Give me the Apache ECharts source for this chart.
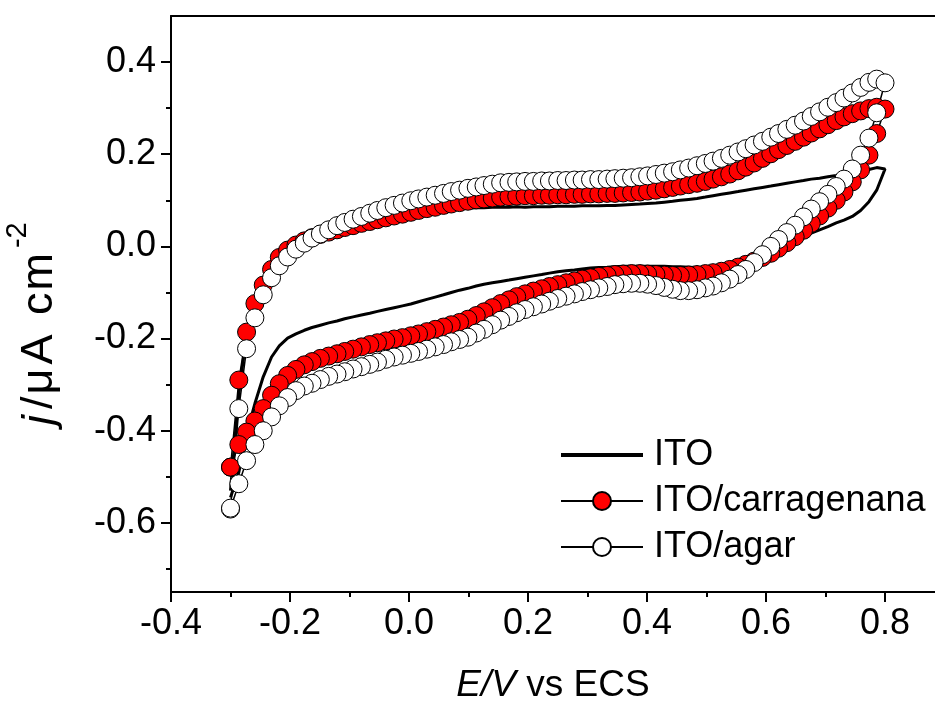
<!DOCTYPE html>
<html><head><meta charset="utf-8">
<script src="https://cdn.jsdelivr.net/npm/echarts@6/dist/echarts.min.js"></script>
<style>html,body{margin:0;padding:0;background:#fff}#c{width:935px;height:702px}</style>
</head><body><div id="c"></div>
<script>
// Potential (V vs ECS), forward (anodic) and reverse (cathodic) scans
const potentialForward = [
 -0.3, -0.286, -0.273, -0.259, -0.245, -0.231, -0.218, -0.204, -0.19, -0.176,
 -0.163, -0.149, -0.135, -0.121, -0.108, -0.094, -0.08, -0.066, -0.053, -0.039,
 -0.025, -0.011, 0.003, 0.016, 0.03, 0.044, 0.058, 0.071, 0.085, 0.099,
 0.113, 0.126, 0.14, 0.154, 0.168, 0.181, 0.195, 0.209, 0.223, 0.236,
 0.25, 0.264, 0.278, 0.291, 0.305, 0.319, 0.333, 0.346, 0.36, 0.374,
 0.388, 0.401, 0.415, 0.429, 0.443, 0.456, 0.47, 0.484, 0.498, 0.511,
 0.525, 0.539, 0.553, 0.566, 0.58, 0.594, 0.608, 0.621, 0.635, 0.649,
 0.663, 0.676, 0.69, 0.704, 0.718, 0.731, 0.745, 0.759, 0.773, 0.786,
 0.8];
const potentialReverse = [
 0.786, 0.773, 0.759, 0.745, 0.731, 0.718, 0.704, 0.69, 0.676, 0.663,
 0.649, 0.635, 0.621, 0.608, 0.594, 0.58, 0.566, 0.553, 0.539, 0.525,
 0.511, 0.498, 0.484, 0.47, 0.456, 0.443, 0.429, 0.415, 0.401, 0.388,
 0.374, 0.36, 0.346, 0.333, 0.319, 0.305, 0.291, 0.278, 0.264, 0.25,
 0.236, 0.223, 0.209, 0.195, 0.181, 0.168, 0.154, 0.14, 0.126, 0.113,
 0.099, 0.085, 0.071, 0.058, 0.044, 0.03, 0.016, 0.003, -0.011, -0.025,
 -0.039, -0.053, -0.066, -0.08, -0.094, -0.108, -0.121, -0.135, -0.149, -0.163,
 -0.176, -0.19, -0.204, -0.218, -0.231, -0.245, -0.259, -0.273, -0.286, -0.3];

// ITO (current density, µA cm-2)
const itoForward = [
 -0.530, -0.320, -0.190, -0.115, -0.070, -0.040, -0.018, -0.002, 0.010, 0.020,
 0.028, 0.035, 0.041, 0.046, 0.051, 0.055, 0.059, 0.062, 0.065, 0.068,
 0.071, 0.073, 0.075, 0.077, 0.078, 0.080, 0.081, 0.082, 0.082, 0.083,
 0.084, 0.084, 0.085, 0.085, 0.085, 0.086, 0.085, 0.086, 0.086, 0.086,
 0.087, 0.087, 0.087, 0.088, 0.088, 0.088, 0.089, 0.089, 0.090, 0.091,
 0.092, 0.093, 0.094, 0.096, 0.098, 0.100, 0.102, 0.104, 0.107, 0.110,
 0.113, 0.116, 0.119, 0.122, 0.125, 0.128, 0.131, 0.134, 0.137, 0.140,
 0.143, 0.146, 0.148, 0.151, 0.154, 0.157, 0.160, 0.163, 0.167, 0.171,
 0.168];
const itoReverse = [
 0.122, 0.097, 0.078, 0.065, 0.057, 0.051, 0.043, 0.036, 0.029, 0.022,
 0.015, 0.006, -0.006, -0.018, -0.029, -0.038, -0.044, -0.047, -0.049, -0.049,
 -0.048, -0.047, -0.046, -0.045, -0.044, -0.044, -0.043, -0.043, -0.043, -0.043,
 -0.043, -0.043, -0.044, -0.045, -0.046, -0.047, -0.049, -0.051, -0.053, -0.055,
 -0.058, -0.061, -0.064, -0.067, -0.070, -0.073, -0.076, -0.079, -0.082, -0.086,
 -0.091, -0.095, -0.100, -0.105, -0.110, -0.115, -0.120, -0.125, -0.129, -0.133,
 -0.137, -0.141, -0.145, -0.149, -0.153, -0.157, -0.162, -0.166, -0.171, -0.176,
 -0.182, -0.190, -0.199, -0.216, -0.240, -0.283, -0.341, -0.407, -0.490, -0.545];

// ITO/carragenana
const carrForward = [
 -0.479, -0.290, -0.186, -0.124, -0.084, -0.050, -0.024, -0.008, 0.003, 0.012,
 0.019, 0.026, 0.031, 0.036, 0.041, 0.045, 0.050, 0.054, 0.058, 0.062,
 0.066, 0.070, 0.074, 0.078, 0.082, 0.085, 0.089, 0.092, 0.095, 0.098,
 0.101, 0.103, 0.105, 0.107, 0.108, 0.109, 0.110, 0.110, 0.111, 0.111,
 0.112, 0.112, 0.113, 0.113, 0.114, 0.114, 0.115, 0.115, 0.116, 0.117,
 0.118, 0.120, 0.122, 0.125, 0.128, 0.131, 0.134, 0.137, 0.141, 0.146,
 0.151, 0.157, 0.164, 0.172, 0.181, 0.191, 0.201, 0.210, 0.219, 0.228,
 0.237, 0.246, 0.255, 0.264, 0.273, 0.281, 0.288, 0.294, 0.299, 0.302,
 0.298];
const carrReverse = [
 0.245, 0.198, 0.166, 0.140, 0.118, 0.100, 0.083, 0.066, 0.050, 0.035,
 0.021, 0.008, -0.004, -0.015, -0.024, -0.032, -0.039, -0.045, -0.050, -0.054,
 -0.057, -0.059, -0.061, -0.062, -0.063, -0.063, -0.062, -0.061, -0.060, -0.059,
 -0.059, -0.060, -0.061, -0.063, -0.065, -0.068, -0.071, -0.075, -0.079, -0.083,
 -0.087, -0.092, -0.097, -0.103, -0.109, -0.116, -0.124, -0.133, -0.142, -0.150,
 -0.158, -0.165, -0.170, -0.175, -0.180, -0.185, -0.190, -0.194, -0.198, -0.201,
 -0.205, -0.209, -0.213, -0.218, -0.223, -0.228, -0.233, -0.238, -0.243, -0.250,
 -0.257, -0.267, -0.280, -0.298, -0.323, -0.352, -0.379, -0.403, -0.430, -0.479];

// ITO/agar
const agarForward = [
 -0.570, -0.352, -0.222, -0.155, -0.105, -0.068, -0.042, -0.023, -0.006, 0.007,
 0.018, 0.027, 0.036, 0.045, 0.052, 0.059, 0.065, 0.072, 0.078, 0.084,
 0.089, 0.094, 0.099, 0.103, 0.107, 0.111, 0.115, 0.119, 0.122, 0.126,
 0.129, 0.132, 0.135, 0.138, 0.139, 0.140, 0.141, 0.141, 0.142, 0.142,
 0.143, 0.143, 0.144, 0.144, 0.145, 0.145, 0.146, 0.147, 0.148, 0.149,
 0.151, 0.153, 0.156, 0.159, 0.162, 0.166, 0.170, 0.175, 0.180, 0.185,
 0.191, 0.198, 0.205, 0.212, 0.220, 0.228, 0.237, 0.245, 0.254, 0.263,
 0.272, 0.282, 0.292, 0.302, 0.312, 0.322, 0.333, 0.345, 0.356, 0.363,
 0.355];
const agarReverse = [
 0.290, 0.235, 0.198, 0.168, 0.146, 0.130, 0.113, 0.097, 0.081, 0.064,
 0.046, 0.030, 0.015, 0.000, -0.018, -0.035, -0.050, -0.061, -0.071, -0.079,
 -0.086, -0.090, -0.094, -0.096, -0.096, -0.093, -0.089, -0.085, -0.082, -0.080,
 -0.080, -0.081, -0.083, -0.087, -0.090, -0.094, -0.098, -0.103, -0.108, -0.113,
 -0.119, -0.125, -0.131, -0.137, -0.144, -0.152, -0.160, -0.170, -0.180, -0.188,
 -0.197, -0.202, -0.207, -0.213, -0.218, -0.223, -0.228, -0.232, -0.236, -0.240,
 -0.245, -0.251, -0.256, -0.261, -0.266, -0.272, -0.277, -0.282, -0.289, -0.297,
 -0.303, -0.313, -0.328, -0.346, -0.370, -0.400, -0.430, -0.465, -0.515, -0.568];

const seriesNames = ['ITO', 'ITO/carragenana', 'ITO/agar'];
const xTicks = [-0.4, -0.2, 0, 0.2, 0.4, 0.6, 0.8];
const xMinorTicks = [-0.3, -0.1, 0.1, 0.3, 0.5, 0.7];
const yTicks = [-0.6, -0.4, -0.2, 0, 0.2, 0.4];
const yMinorTicks = [-0.7, -0.5, -0.3, -0.1, 0.1, 0.3];

const FONT = '"Liberation Sans", Arial, Helvetica, sans-serif';
const X_MIN = -0.4, X_MAX = 0.884, Y_MIN = -0.75, Y_MAX = 0.5;

function pairs(fwd, rev) {
  return potentialForward.map((x, i) => [x, fwd[i]])
    .concat(potentialReverse.map((x, i) => [x, rev[i]]));
}

const chart = echarts.init(document.getElementById('c'), null, {renderer: 'canvas'});

const axisLineStyle = {color: '#000', width: 2};
function majorAxis(pos, ticks, min, max) {
  return {
    type: 'value', position: pos, min: min, max: max,
    axisLine: {show: true, onZero: false, lineStyle: axisLineStyle},
    axisTick: {show: true, inside: false, length: 10, lineStyle: axisLineStyle, customValues: ticks},
    axisLabel: {show: true, customValues: ticks, formatter: v => v.toFixed(1),
      fontSize: 36, color: '#000', fontFamily: FONT, margin: pos === 'left' ? 15 : 14},
    splitLine: {show: false}
  };
}
function minorAxis(pos, ticks, min, max) {
  return {
    type: 'value', position: pos, min: min, max: max,
    axisLine: {show: false, onZero: false},
    axisTick: {show: true, inside: false, length: 5, lineStyle: axisLineStyle, customValues: ticks},
    axisLabel: {show: false},
    splitLine: {show: false}
  };
}

// y-axis title: measured so the superscript follows the main text
const Y_FS = 45, SUP_FS = 29;
const mctx = document.createElement('canvas').getContext('2d');
function tw(str, size, style) {
  mctx.font = (style || 'normal') + ' ' + size + 'px ' + FONT;
  return mctx.measureText(str).width;
}
const yTitleTokens = [
  ['j', 'i', 0, 4], ['/', 'n', 2, 2], ['\u03bc', 'n', 0, 4], ['A', 'n', 0, 3],
  [' ', 'n', 2, 2], ['c', 'n', 0, 2], ['m', 'n', 0, 2]
];
const yRich = {};
let yText = '', yLen = 0;
yTitleTokens.forEach((t, k) => {
  const key = 't' + k;
  yRich[key] = {fontSize: Y_FS, fontFamily: FONT, fill: '#000', lineHeight: Y_FS,
    fontStyle: t[1] === 'i' ? 'italic' : 'normal', padding: [0, t[3], 0, t[2]]};
  yText += '{' + key + '|' + t[0] + '}';
  yLen += tw(t[0], Y_FS, t[1] === 'i' ? 'italic' : 'normal') + t[2] + t[3];
});
const Y_START = 425;

const option = {
  animation: false,
  backgroundColor: '#fff',
  grid: {left: 171, right: 0, top: 16, bottom: 110, containLabel: false},
  xAxis: [
    majorAxis('bottom', xTicks, X_MIN, X_MAX),
    minorAxis('bottom', xMinorTicks, X_MIN, X_MAX),
    {type: 'value', position: 'top', min: X_MIN, max: X_MAX,
     axisLine: {show: true, onZero: false, lineStyle: axisLineStyle},
     axisTick: {show: false}, axisLabel: {show: false}, splitLine: {show: false}}
  ],
  yAxis: [
    majorAxis('left', yTicks, Y_MIN, Y_MAX),
    minorAxis('left', yMinorTicks, Y_MIN, Y_MAX)
  ],
  legend: {
    orient: 'vertical', left: 560, top: 437, padding: 0,
    itemWidth: 82, itemHeight: 22.5, itemGap: 10,
    selectedMode: false,
    textStyle: {fontSize: 36, fontFamily: FONT, color: '#000', lineHeight: 36, padding: [0, 0, 0, 6]},
    data: [
      {name: seriesNames[0], icon: 'path://M0,0L82,0L82,4L0,4Z', itemStyle: {color: '#000', borderWidth: 0}},
      {name: seriesNames[1]},
      {name: seriesNames[2]}
    ]
  },
  series: [
    {name: seriesNames[0], type: 'line', xAxisIndex: 0, yAxisIndex: 0,
     data: pairs(itoForward, itoReverse), symbol: 'none', showSymbol: false,
     lineStyle: {color: '#000', width: 3}, itemStyle: {color: '#000'}},
    {name: seriesNames[1], type: 'line', xAxisIndex: 0, yAxisIndex: 0,
     data: pairs(carrForward, carrReverse), symbol: 'circle', symbolSize: 18,
     itemStyle: {color: '#ff0000', borderColor: '#000', borderWidth: 1},
     lineStyle: {color: '#000', width: 1.5}},
    {name: seriesNames[2], type: 'line', xAxisIndex: 0, yAxisIndex: 0,
     data: pairs(agarForward, agarReverse), symbol: 'circle', symbolSize: 18,
     itemStyle: {color: '#ffffff', borderColor: '#000', borderWidth: 1},
     lineStyle: {color: '#000', width: 1.5}}
  ],
  graphic: [
    {type: 'text', x: 553, y: 686, silent: true,
     style: {text: '{i|E/V} vs ECS', fontSize: 37, fontFamily: FONT, fill: '#000',
       align: 'center', verticalAlign: 'middle',
       rich: {i: {fontStyle: 'italic', fontSize: 37, fontFamily: FONT, fill: '#000'}}}},
    {type: 'text', x: 40, y: Y_START, rotation: Math.PI / 2, silent: true,
     style: {text: yText, rich: yRich, align: 'left', verticalAlign: 'middle',
       fontSize: Y_FS, fontFamily: FONT, fill: '#000'}},
    {type: 'text', x: 18, y: Y_START - yLen - 3, rotation: Math.PI / 2, silent: true,
     style: {text: '-2', align: 'left', verticalAlign: 'middle',
       fontSize: SUP_FS, fontFamily: FONT, fill: '#000'}}
  ]
};
chart.setOption(option);
</script>
</body></html>
